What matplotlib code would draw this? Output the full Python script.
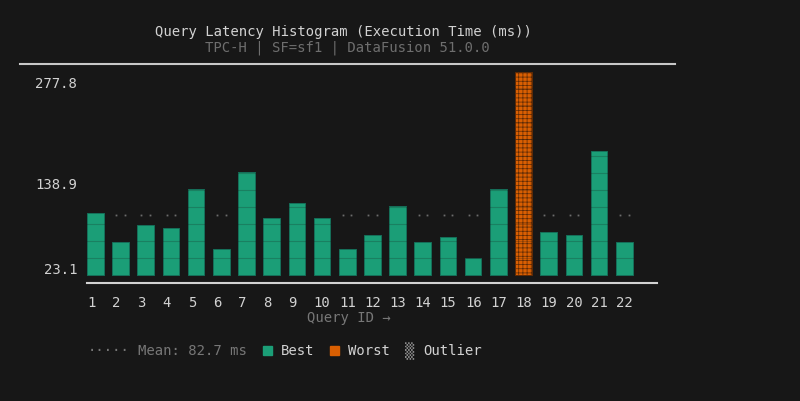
import matplotlib
matplotlib.use("Agg")
import matplotlib.pyplot as plt
import matplotlib.transforms as mtransforms

# ---------------------------------------------------------------------------
# Data
# ---------------------------------------------------------------------------
queries = list(range(1, 23))
latency_ms = [84.8, 44.7, 68.0, 64.7, 117.3, 35.6, 140.5, 78.4, 98.1, 78.4, 35.6,
              55.2, 94.9, 44.7, 52.0, 23.1, 117.7, 277.8, 58.8, 55.2, 170.1, 44.7]
mean_ms = 82.7
ytick_vals = [23.1, 138.9, 277.8]
ytick_labels = ["23.1", "138.9", "277.8"]

# ---------------------------------------------------------------------------
# Style
# ---------------------------------------------------------------------------
BG = "#171717"
FG = "#d2d2d2"
DIM = "#777777"
GREEN = "#1b9e77"
ORANGE = "#d95f02"
MONO = "DejaVu Sans Mono"
W, H = 800, 402

plt.rcParams["font.family"] = MONO
plt.rcParams["font.size"] = 10
plt.rcParams["hatch.linewidth"] = 0.5

fig = plt.figure(figsize=(W / 100, H / 100), dpi=100, facecolor=BG)


def fx(px):
    return px / W


def fy(py):
    return (H - py) / H


# axes: x 87..657 px, y 73 (top) .. 284 (bottom)
ax = fig.add_axes([fx(87), fy(284), fx(657 - 87), (284 - 73) / H])
ax.set_facecolor(BG)

bar_w = 0.66
px_per_unit = 203 / max(latency_ms)
ax.set_xlim(1 - bar_w / 2, 1 - bar_w / 2 + 570 / 25.19)
ax.set_ylim(-8 / px_per_unit, max(latency_ms))

worst = latency_ms.index(max(latency_ms))
colors = [ORANGE if i == worst else GREEN for i in range(len(queries))]
edges = ["#5e2a05" if i == worst else "#15705a" for i in range(len(queries))]
bars = ax.bar(queries, latency_ms, width=bar_w, color=colors, edgecolor=edges,
              linewidth=0.7, zorder=2)
bars[worst].set_hatch("++++")

# faint terminal row lines across the bars
row_val = 17 / px_per_unit
k = 1
while k * row_val < max(latency_ms):
    ax.axhline(k * row_val, color=BG, alpha=0.22, linewidth=0.8, zorder=3)
    k += 1

# mean marker dots above bars that sit below it
for q, v in zip(queries, latency_ms):
    if v < mean_ms - row_val / 2:
        ax.plot([q - 0.17, q + 0.17], [mean_ms, mean_ms], linestyle="none",
                marker="s", markersize=1.3, markeredgewidth=0, color="#6c6c6c",
                zorder=1)

# spines
for s in ["top", "right", "left"]:
    ax.spines[s].set_visible(False)
ax.spines["bottom"].set_color(FG)
ax.spines["bottom"].set_linewidth(1.5)

# y ticks (labels sit slightly below their value)
ax.set_yticks(ytick_vals)
ax.set_yticklabels(ytick_labels, color=FG)
ax.tick_params(axis="y", length=0, pad=7)
off = mtransforms.ScaledTranslation(0, -9 / 100, fig.dpi_scale_trans)
for lbl in ax.get_yticklabels():
    lbl.set_transform(lbl.get_transform() + off)

# x ticks left-aligned at bar left edges
ax.set_xticks([q - bar_w / 2 for q in queries])
ax.set_xticklabels([str(q) for q in queries], color=FG, ha="left")
ax.tick_params(axis="x", length=0, pad=9)

# titles and top rule
fig.text(fx(155), fy(32), "Query Latency Histogram (Execution Time (ms))",
         color=FG, ha="left", va="center", fontsize=10)
fig.text(fx(205), fy(48), "TPC-H | SF=sf1 | DataFusion 51.0.0",
         color="#6e6e6e", ha="left", va="center", fontsize=10)
fig.add_artist(plt.Line2D([fx(20), fx(675)], [fy(65), fy(65)], color="#c8c8c8",
                          linewidth=1.5))

fig.text(fx(307), fy(318), "Query ID \u2192", color=DIM, ha="left", va="center")

# legend
ly = fy(351)
fig.text(fx(88), ly, "\u00b7\u00b7\u00b7\u00b7\u00b7", color=DIM, ha="left", va="center")
fig.text(fx(138), ly, "Mean: 82.7 ms", color=DIM, ha="left", va="center")
fig.add_artist(plt.Rectangle((fx(263), fy(356)), fx(9), 9 / H, color=GREEN))
fig.text(fx(281), ly, "Best", color=FG, ha="left", va="center")
fig.add_artist(plt.Rectangle((fx(330), fy(356)), fx(9), 9 / H, color=ORANGE))
fig.text(fx(348), ly, "Worst", color=FG, ha="left", va="center")
fig.text(fx(405), ly, "\u2592", color="#8a8a8a", ha="left", va="center", fontsize=11)
fig.text(fx(423), ly, "Outlier", color=FG, ha="left", va="center")

fig.savefig("out.png", dpi=100, facecolor=BG)
